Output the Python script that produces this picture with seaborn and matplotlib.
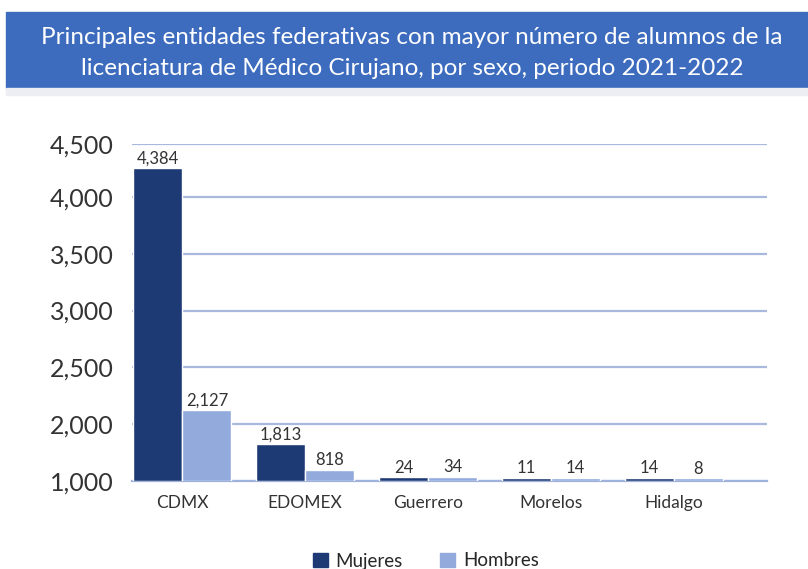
import numpy as np
import pandas as pd
import matplotlib
matplotlib.use('Agg')
import matplotlib.pyplot as plt
from matplotlib.patches import Rectangle
import seaborn as sns

# datos
entidades = ['CDMX', 'EDOMEX', 'Guerrero', 'Morelos', 'Hidalgo']
mujeres = [4384, 1813, 24, 11, 14]
hombres = [2127, 818, 34, 14, 8]
sexos = ['Mujeres', 'Hombres']

# el eje del original no es lineal y el primer rotulo dice 1,000 sobre la base
tick_vals = [0, 2000, 2500, 3000, 3500, 4000, 4500]
tick_labels = ['1,000', '2,000', '2,500', '3,000', '3,500', '4,000', '4,500']

titulo = ('Principales entidades federativas con mayor número de alumnos de la\n'
          'licenciatura de Médico Cirujano, por sexo, periodo 2021-2022')

colores = ['#1e3a74', '#92abdc']

df = pd.DataFrame({
    'entidad': entidades * 2,
    'sexo': [sexos[0]] * len(entidades) + [sexos[1]] * len(entidades),
    'alumnos': mujeres + hombres,
})

# escala por tramos para imitar la altura visual de las barras
kv = [0, 8, 50, 800, 1800, 2000, 4000, 4400, 4500]
kh = [0, 3, 5, 11, 36, 57, 284, 314, 337]


def fwd(v):
    return np.interp(v, kv, kh)


def inv(h):
    return np.interp(h, kh, kv)


sns.set_style('white')
plt.rcParams['font.family'] = ['Lato', 'DejaVu Sans']

fig = plt.figure(figsize=(8.08, 5.69), dpi=100)

# banda del titulo
fig.patches.append(Rectangle((6 / 808, 1 - 88 / 569), 1, 76 / 569,
                             transform=fig.transFigure, color='#3d6cbf', zorder=0))
fig.patches.append(Rectangle((6 / 808, 1 - 95 / 569), 1, 7 / 569,
                             transform=fig.transFigure, color='#eceef3', zorder=0))
fig.text(412 / 808, 1 - 53 / 569, titulo, color='white', fontsize=17.5,
         ha='center', va='center', linespacing=1.55)

ax = fig.add_axes([132 / 808, (569 - 481) / 569, (767 - 132) / 808, 337 / 569])
sns.barplot(data=df, x='entidad', y='alumnos', hue='sexo', palette=colores,
            width=0.8, saturation=1, ax=ax, legend=False, zorder=3)
ax.set_yscale('function', functions=(fwd, inv))
ax.set_ylim(0, 4500)
ax.set_xlim(-0.41, 4.76)
ax.set_yticks(tick_vals, tick_labels)

for cont, vals in zip(ax.containers, [mujeres, hombres]):
    ax.bar_label(cont, labels=[f'{v:,}' for v in vals], padding=1,
                 fontsize=12, color='#333333')

ax.grid(axis='y', color='#a9b9dd', lw=1.6)
ax.set_axisbelow(True)
for s in ['top', 'right', 'left']:
    ax.spines[s].set_visible(False)
ax.spines['bottom'].set_color('#9fb2dc')
ax.spines['bottom'].set_linewidth(1.6)
ax.spines['bottom'].set_zorder(1)
ax.tick_params(axis='y', length=0, labelsize=18, pad=13, labelcolor='#333333')
ax.tick_params(axis='x', length=0, labelsize=12.5, pad=10, labelcolor='#333333')
ax.set_xlabel('')
ax.set_ylabel('')

handles = [Rectangle((0, 0), 1, 1, color=c) for c in colores]
fig.legend(handles, sexos, loc='center', bbox_to_anchor=(0.527, 8 / 569),
           ncol=2, frameon=False, fontsize=13.5, handlelength=0.8,
           handleheight=0.8, columnspacing=2.0, handletextpad=0.4)

fig.savefig('out.png', dpi=100)
